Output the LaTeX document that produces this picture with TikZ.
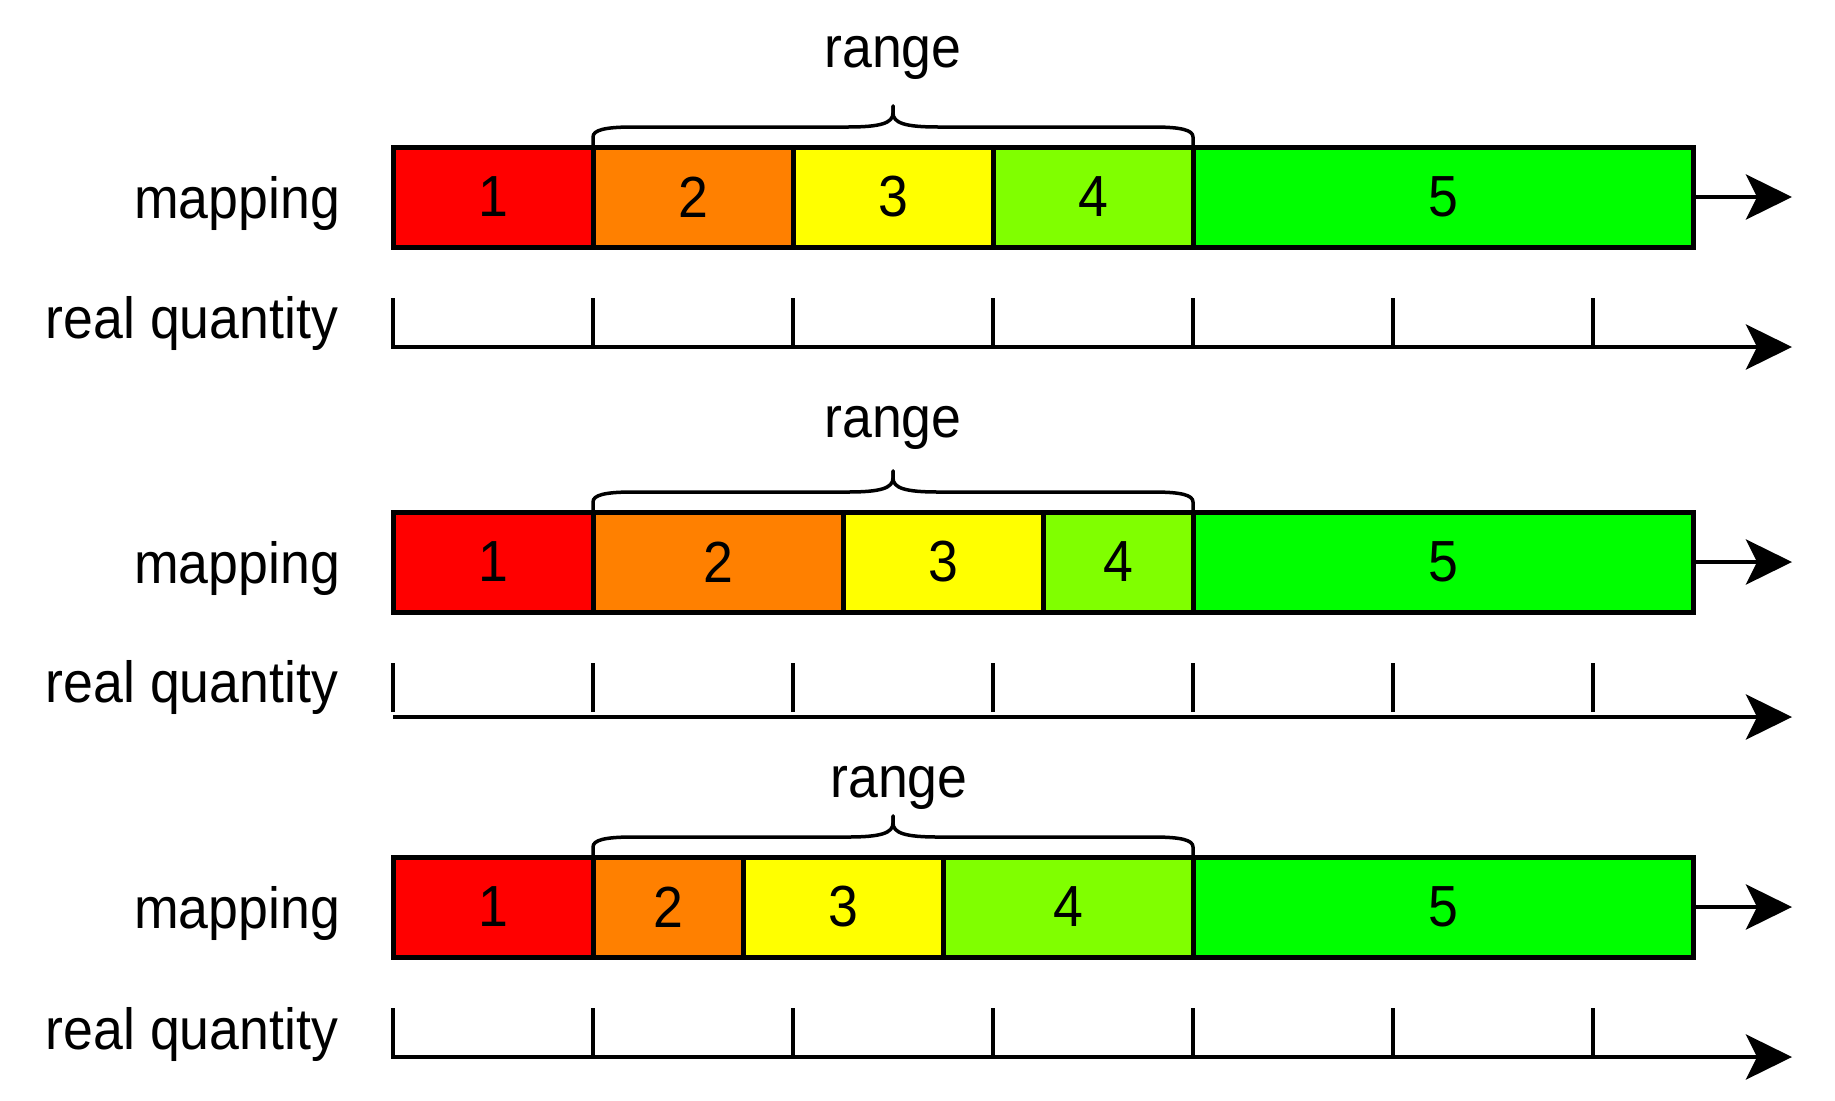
\documentclass[tikz,border=0pt]{standalone}
\usepackage{fontspec}
\setmainfont{Liberation Sans}[FakeStretch=0.925]
\usetikzlibrary{arrows.meta}
\newcommand\dfont{\fontsize{58}{70}\selectfont}
\newcommand\rangebracedraw[4]{%
  \pgfmathsetmacro\xm{(#1+#2)/2}
  \draw[bracestyle] (#1,#4) -- (#1,#3+10) .. controls (#1,#3+3) and (#1+12,#3) .. (#1+40,#3)
     -- (\xm-45,#3) .. controls (\xm-12,#3) and (\xm,#3-4) .. (\xm,#3-14) -- (\xm,#3-21);
  \draw[bracestyle] (#2,#4) -- (#2,#3+10) .. controls (#2,#3+3) and (#2-12,#3) .. (#2-40,#3)
     -- (\xm+45,#3) .. controls (\xm+12,#3) and (\xm,#3-4) .. (\xm,#3-14) -- (\xm,#3-21);
}
\definecolor{c1}{HTML}{FF0000}
\definecolor{c2}{HTML}{FF8000}
\definecolor{c3}{HTML}{FFFF00}
\definecolor{c4}{HTML}{80FF00}
\definecolor{c5}{HTML}{00FF00}
\begin{document}
\begin{tikzpicture}[x=1pt,y=-1pt,
  cell/.style={draw, line width=5pt, minimum height=100pt, inner sep=0pt, outer sep=0pt, font=\dfont},
  lbl/.style={inner sep=0pt, outer sep=0pt, font=\dfont},
  axis/.style={line width=4.2pt, -{Stealth[length=46pt,width=45pt,inset=11pt]}},
  tickline/.style={line width=4.2pt},
  bracestyle/.style={line width=3.5pt, line cap=round, line join=round}]
\useasboundingbox (0,0) rectangle (1835,1100);

% ---------- section 1 ----------
\node[lbl, anchor=base] (rng1) at (893,67) {range};
\rangebracedraw{593}{1193}{127}{147}
\node[cell, fill=c1, minimum width=200pt] (m1a) at (493,197) {1};
\node[cell, fill=c2, minimum width=200pt] (m1b) at (693,197) {2};
\node[cell, fill=c3, minimum width=200pt] (m1c) at (893,197) {3};
\node[cell, fill=c4, minimum width=200pt] (m1d) at (1093,197) {4};
\node[cell, fill=c5, minimum width=500pt] (m1e) at (1443,197) {5};
\coordinate (t1) at (1792,197);
\draw[axis] (m1e.east) -- (t1);
\node[lbl, anchor=base east] (map1) at (340,218) {mapping};
\node[lbl, anchor=base east] (rq1) at (338,338) {real quantity};
\coordinate (a1s) at (393,298);
\coordinate (a1c) at (393,347);
\coordinate (a1e) at (1792,347);
\draw[axis] (a1s) -- (a1c) -- (a1e);
\foreach \x in {593,793,993,1193,1393,1593} \draw[tickline] (\x,298) -- (\x,347);

% ---------- section 2 ----------
\node[lbl, anchor=base] (rng2) at (893,437) {range};
\rangebracedraw{593}{1193}{492}{512}
\node[cell, fill=c1, minimum width=200pt] (m2a) at (493,562) {1};
\node[cell, fill=c2, minimum width=250pt] (m2b) at (718,562) {2};
\node[cell, fill=c3, minimum width=200pt] (m2c) at (943,562) {3};
\node[cell, fill=c4, minimum width=150pt] (m2d) at (1118,562) {4};
\node[cell, fill=c5, minimum width=500pt] (m2e) at (1443,562) {5};
\coordinate (t2) at (1792,562);
\draw[axis] (m2e.east) -- (t2);
\node[lbl, anchor=base east] (map2) at (340,583) {mapping};
\node[lbl, anchor=base east] (rq2) at (338,702) {real quantity};
\coordinate (a2s) at (393,717);
\coordinate (a2e) at (1792,717);
\draw[axis] (a2s) -- (a2e);
\foreach \x in {393,593,793,993,1193,1393,1593} \draw[tickline] (\x,663) -- (\x,712);

% ---------- section 3 ----------
\node[lbl, anchor=base] (rng3) at (899,797) {range};
\rangebracedraw{593}{1193}{837}{857}
\node[cell, fill=c1, minimum width=200pt] (m3a) at (493,907) {1};
\node[cell, fill=c2, minimum width=150pt] (m3b) at (668,907) {2};
\node[cell, fill=c3, minimum width=200pt] (m3c) at (843,907) {3};
\node[cell, fill=c4, minimum width=250pt] (m3d) at (1068,907) {4};
\node[cell, fill=c5, minimum width=500pt] (m3e) at (1443,907) {5};
\coordinate (t3) at (1792,907);
\draw[axis] (m3e.east) -- (t3);
\node[lbl, anchor=base east] (map3) at (340,928) {mapping};
\node[lbl, anchor=base east] (rq3) at (338,1049) {real quantity};
\coordinate (a3s) at (393,1008);
\coordinate (a3c) at (393,1057);
\coordinate (a3e) at (1792,1057);
\draw[axis] (a3s) -- (a3c) -- (a3e);
\foreach \x in {593,793,993,1193,1393,1593} \draw[tickline] (\x,1008) -- (\x,1057);
\end{tikzpicture}
\end{document}
